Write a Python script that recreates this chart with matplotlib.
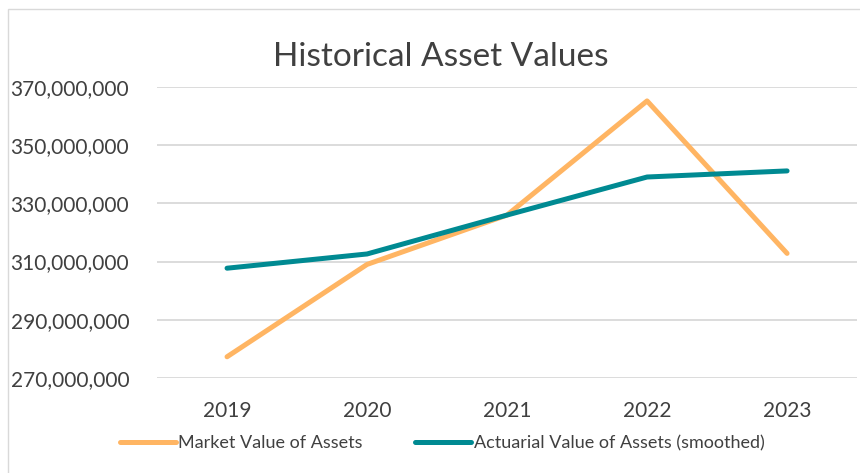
import matplotlib.pyplot as plt
from matplotlib.patches import Rectangle
from matplotlib.ticker import FuncFormatter

years = ["2019", "2020", "2021", "2022", "2023"]
market_value = [277.2e6, 309.0e6, 326.0e6, 365.3e6, 312.8e6]
actuarial_value = [307.7e6, 312.6e6, 326.0e6, 339.1e6, 341.2e6]

plt.rcParams['font.family'] = ['Lato', 'DejaVu Sans']
txt = '#404040'

fig = plt.figure(figsize=(8.6, 4.73), dpi=100)
ax = fig.add_axes([0.1826, 0.2015, 0.814, 0.614])

x = range(len(years))
ax.plot(x, market_value, color='#FFB563', lw=3.6, solid_capstyle='round',
        label='Market Value of Assets')
ax.plot(x, actuarial_value, color='#008A92', lw=3.6, solid_capstyle='round',
        label='Actuarial Value of Assets (smoothed)')

ax.set_xlim(-0.5, 4.5)
ax.set_ylim(270e6, 370e6)
ax.set_yticks(range(270000000, 370000001, 20000000))
ax.yaxis.set_major_formatter(FuncFormatter(lambda v, p: f'{int(v):,}'))
ax.set_xticks(list(x))
ax.set_xticklabels(years)
ax.grid(axis='y', color='#d9d9d9', lw=1.3)
ax.set_axisbelow(True)
for s in ax.spines.values():
    s.set_visible(False)
ax.tick_params(length=0, labelcolor=txt, labelsize=15)
ax.tick_params(axis='y', pad=20)
ax.tick_params(axis='x', pad=17)

fig.text(0.512, 0.88, 'Historical Asset Values', ha='center', va='center',
         fontsize=24, color=txt)

fig.legend(loc='center', bbox_to_anchor=(0.514, 0.063), ncol=2, frameon=False,
           fontsize=13, handlelength=3.1, handletextpad=0.15, columnspacing=2.9,
           labelcolor=txt)

fig.patches.append(Rectangle((0.0093, -0.01), 1.0, 0.99, transform=fig.transFigure,
                             fill=False, ec='#d9d9d9', lw=1))

fig.savefig('out.png', dpi=100, facecolor='white')
